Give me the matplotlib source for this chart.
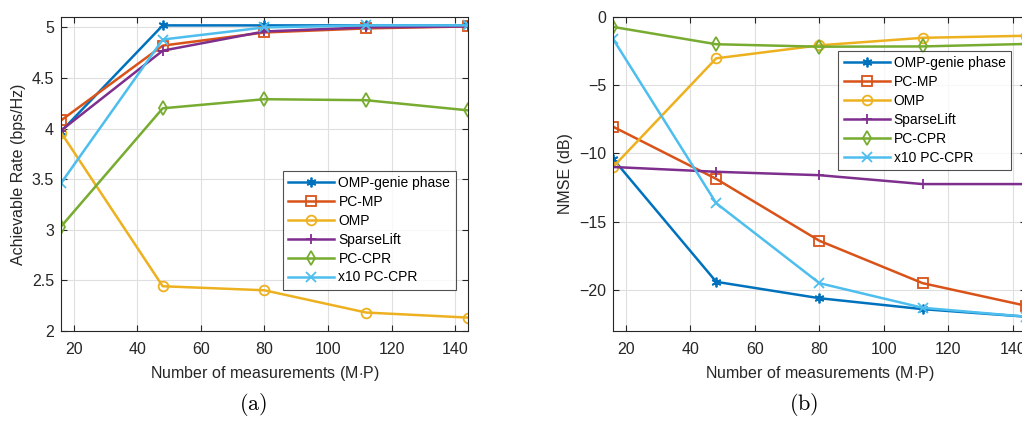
import numpy as np
import matplotlib
matplotlib.use('Agg')
import matplotlib.pyplot as plt

plt.rcParams['font.family'] = ['Liberation Sans', 'DejaVu Sans']
plt.rcParams['mathtext.fontset'] = 'cm'

# data
meas = [16, 48, 80, 112, 144]
names = ['OMP-genie phase', 'PC-MP', 'OMP', 'SparseLift', 'PC-CPR', 'x10 PC-CPR']

rate_genie = [3.97, 5.02, 5.02, 5.02, 5.02]
rate_pcmp = [4.08, 4.82, 4.95, 4.99, 5.01]
rate_omp = [3.96, 2.44, 2.40, 2.18, 2.13]
rate_sl = [3.98, 4.77, 4.96, 5.00, 5.01]
rate_pccpr = [3.03, 4.20, 4.29, 4.28, 4.18]
rate_x10 = [3.46, 4.88, 5.00, 5.02, 5.02]

nmse_genie = [-10.4, -19.4, -20.6, -21.4, -21.95]
nmse_pcmp = [-8.05, -11.87, -16.4, -19.5, -21.15]
nmse_omp = [-11.0, -3.05, -2.1, -1.55, -1.4]
nmse_sl = [-11.0, -11.35, -11.6, -12.25, -12.25]
nmse_pccpr = [-0.75, -2.02, -2.2, -2.18, -2.0]
nmse_x10 = [-1.63, -13.65, -19.5, -21.3, -21.95]

colors = ['#0072BD', '#D95319', '#EDB120', '#7E2F8E', '#77AC30', '#4DBEEE']
markers = [(6, 2, 0), 's', 'o', '+', 'd', 'x']

fig = plt.figure(figsize=(10.22, 4.22), dpi=100)
ax1 = fig.add_axes([0.0597, 0.2163, 0.398, 0.7427])
ax2 = fig.add_axes([0.5998, 0.2156, 0.404, 0.745])

def draw(ax, series):
    for i, y in enumerate(series):
        mfc = colors[i] if i == 0 else 'none'
        ax.plot(meas, y, color=colors[i], marker=markers[i], ms=7, mfc=mfc,
                mew=1.3, lw=1.8, label=names[i])
    ax.set_xlim(16, 144)
    ax.set_xticks([20, 40, 60, 80, 100, 120, 140])
    ax.grid(True, color='#dfdfdf', lw=0.8)
    ax.set_axisbelow(True)
    ax.tick_params(direction='in', top=True, right=True, labelsize=11.5,
                   colors='#262626', length=4)
    ax.tick_params(axis='x', pad=8)
    ax.tick_params(axis='y', pad=5)
    for s in ax.spines.values():
        s.set_color('#262626')
        s.set_linewidth(0.8)
    ax.set_xlabel('Number of measurements (M$\\cdot$P)', fontsize=11.5,
                  color='#262626', labelpad=5)
    leg = ax.legend(fontsize=10, fancybox=False, edgecolor='#262626',
                    handlelength=3.3, borderpad=0.4, labelspacing=0.35,
                    handletextpad=0.3, borderaxespad=0)
    leg.get_frame().set_linewidth(0.8)
    return leg

leg1 = draw(ax1, [rate_genie, rate_pcmp, rate_omp, rate_sl, rate_pccpr, rate_x10])
ax1.set_ylim(2, 5.1)
ax1.set_yticks([2, 2.5, 3, 3.5, 4, 4.5, 5])
ax1.set_yticklabels(['2', '2.5', '3', '3.5', '4', '4.5', '5'])
ax1.set_ylabel('Achievable Rate (bps/Hz)', fontsize=11.5, color='#262626')
leg1.set_bbox_to_anchor((0.546, 0.133, 0.424, 0.375), transform=ax1.transAxes)
leg1._loc = 10

leg2 = draw(ax2, [nmse_genie, nmse_pcmp, nmse_omp, nmse_sl, nmse_pccpr, nmse_x10])
ax2.set_ylim(-23, 0)
ax2.set_yticks([-20, -15, -10, -5, 0])
ax2.set_ylabel('NMSE (dB)', fontsize=11.5, color='#262626')
leg2.set_bbox_to_anchor((0.55, 0.514, 0.41, 0.375), transform=ax2.transAxes)
leg2._loc = 10

fig.text(0.2475, 0.028, r'$\mathrm{(a)}$', fontsize=16, ha='center')
fig.text(0.786, 0.028, r'$\mathrm{(b)}$', fontsize=16, ha='center')

fig.savefig('out.png', dpi=100)
